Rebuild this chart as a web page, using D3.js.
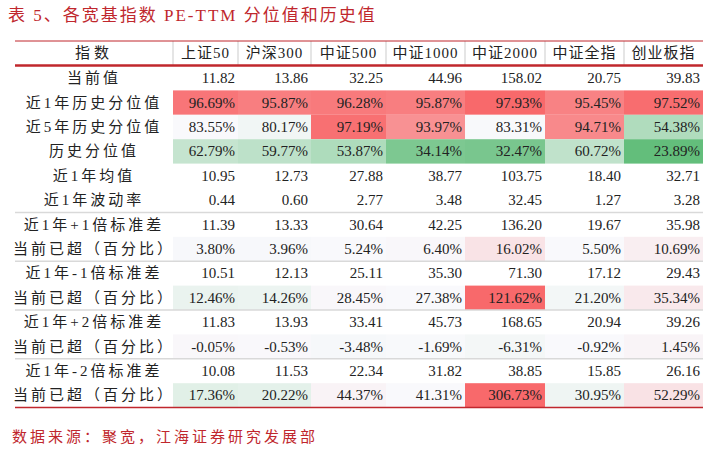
<!DOCTYPE html>
<html><head><meta charset="utf-8">
<script src="https://cdn.jsdelivr.net/npm/d3@7"></script>
<style>
body{margin:0;background:#fff}
text{font-family:"Liberation Serif","Noto Sans CJK SC",serif}
</style></head><body>
<svg id="c" width="708" height="449"></svg>
<script>
var columns = ['上证50', '沪深300', '中证500', '中证1000', '中证2000', '中证全指', '创业板指']
var rowLabels = ['当前值', '近1年历史分位值', '近5年历史分位值', '历史分位值', '近1年均值', '近1年波动率',
  '近1年+1倍标准差', '当前已超（百分比）', '近1年-1倍标准差', '当前已超（百分比）',
  '近1年+2倍标准差', '当前已超（百分比）', '近1年-2倍标准差', '当前已超（百分比）']
var current = [11.82, 13.86, 32.25, 44.96, 158.02, 20.75, 39.83]
var pct1y = [96.69, 95.87, 96.28, 95.87, 97.93, 95.45, 97.52]
var pct5y = [83.55, 80.17, 97.19, 93.97, 83.31, 94.71, 54.38]
var pctAll = [62.79, 59.77, 53.87, 34.14, 32.47, 60.72, 23.89]
var mean1y = [10.95, 12.73, 27.88, 38.77, 103.75, 18.40, 32.71]
var vol1y = [0.44, 0.60, 2.77, 3.48, 32.45, 1.27, 3.28]
var plus1 = [11.39, 13.33, 30.64, 42.25, 136.20, 19.67, 35.98]
var over1 = [3.80, 3.96, 5.24, 6.40, 16.02, 5.50, 10.69]
var minus1 = [10.51, 12.13, 25.11, 35.30, 71.30, 17.12, 29.43]
var overM1 = [12.46, 14.26, 28.45, 27.38, 121.62, 21.20, 35.34]
var plus2 = [11.83, 13.93, 33.41, 45.73, 168.65, 20.94, 39.26]
var over2 = [-0.05, -0.53, -3.48, -1.69, -6.31, -0.92, 1.45]
var minus2 = [10.08, 11.53, 22.34, 31.82, 38.85, 15.85, 26.16]
var overM2 = [17.36, 20.22, 44.37, 41.31, 306.73, 30.95, 52.29]

var rows = [current, pct1y, pct5y, pctAll, mean1y, vol1y, plus1, over1, minus1, overM1, plus2, over2, minus2, overM2]
var isPct = [0, 1, 1, 1, 0, 0, 0, 1, 0, 1, 0, 1, 0, 1]

var svg = d3.select('#c')
var red = '#c0272d', W = '#f9f9fc', R = '#f8696b', G = '#63be7b'
var colEdges = [15, 173, 238, 311, 386, 465, 545, 624, 703]
var headTop = 41, headH = 24, bodyTop = 66, rowH = 24.4

// percentile block shares one colour scale, median as white point
var pctVals = pct1y.concat(pct5y, pctAll)
var pctScale = d3.scaleLinear()
  .domain([d3.min(pctVals), d3.median(pctVals), d3.max(pctVals)])
  .range([G, W, R]).interpolate(d3.interpolateRgb)

function rowScale(vals) {
  var med = d3.median(vals)
  return d3.scaleLinear().domain([med - 150, med, med + 70])
    .range([G, W, R]).clamp(true).interpolate(d3.interpolateRgb)
}

svg.append('text').attr('x', 8).attr('y', 21).attr('fill', red)
  .style('font-size', '17px').style('letter-spacing', '2px')
  .text('表 5、各宽基指数 PE-TTM 分位值和历史值')

var y = d3.scaleBand().domain(d3.range(rows.length))
  .range([bodyTop, bodyTop + rowH * rows.length])

rows.forEach(function(vals, i) {
  var sc = null
  if (i >= 1 && i <= 3) sc = pctScale
  else if (isPct[i]) sc = rowScale(vals)
  var g = svg.append('g')
  if (sc) {
    g.selectAll('rect').data(vals).enter().append('rect')
      .attr('x', function(d, j) { return colEdges[j + 1] })
      .attr('width', function(d, j) { return colEdges[j + 2] - colEdges[j + 1] })
      .attr('y', y(i)).attr('height', y.bandwidth())
      .attr('fill', function(d) { return sc(d) })
  }
  g.selectAll('text.v').data(vals).enter().append('text').attr('class', 'v')
    .attr('x', function(d, j) { return colEdges[j + 2] - 3 })
    .attr('y', y(i) + y.bandwidth() / 2 + 5)
    .attr('text-anchor', 'end').style('font-size', '15px').attr('fill', '#222')
    .text(function(d) { return d.toFixed(2) + (isPct[i] ? '%' : '') })
  g.append('text').attr('x', (colEdges[0] + colEdges[1]) / 2)
    .attr('y', y(i) + y.bandwidth() / 2 + 5).attr('text-anchor', 'middle')
    .style('font-size', '15px').style('letter-spacing', '3px').attr('fill', '#222')
    .text(rowLabels[i])
})

// header
var head = ['指数'].concat(columns)
svg.selectAll('text.h').data(head).enter().append('text').attr('class', 'h')
  .attr('x', function(d, j) { return (colEdges[j] + colEdges[j + 1]) / 2 })
  .attr('y', headTop + headH / 2 + 5).attr('text-anchor', 'middle')
  .style('font-size', '15px').style('letter-spacing', function(d, j) { return j === 0 ? '4px' : '1px' })
  .attr('fill', '#222')
  .text(function(d) { return d })
svg.selectAll('line.hv').data(colEdges.slice(1, -1)).enter().append('line')
  .attr('x1', function(d) { return d }).attr('x2', function(d) { return d })
  .attr('y1', headTop).attr('y2', headTop + headH)
  .attr('stroke', '#ddd').attr('stroke-width', 1.5)

// separators
;[6, 8, 10, 12].forEach(function(i) {
  svg.append('line').attr('x1', 15).attr('x2', 703).attr('y1', y(i)).attr('y2', y(i))
    .attr('stroke', '#d9d9d9').attr('stroke-width', 1.5)
})
svg.append('line').attr('x1', 15).attr('x2', 703).attr('y1', headTop).attr('y2', headTop)
  .attr('stroke', red).attr('stroke-width', 1)
svg.append('line').attr('x1', 15).attr('x2', 703).attr('y1', headTop + headH + 0.5).attr('y2', headTop + headH + 0.5)
  .attr('stroke', red).attr('stroke-width', 2.5)
var bottom = bodyTop + rowH * rows.length
svg.append('line').attr('x1', 15).attr('x2', 703).attr('y1', bottom).attr('y2', bottom)
  .attr('stroke', red).attr('stroke-width', 1.5)

svg.append('text').attr('x', 12).attr('y', 442).attr('fill', red)
  .style('font-size', '15px').style('letter-spacing', '3px').text('数据来源：聚宽，江海证券研究发展部')
</script></body></html>
